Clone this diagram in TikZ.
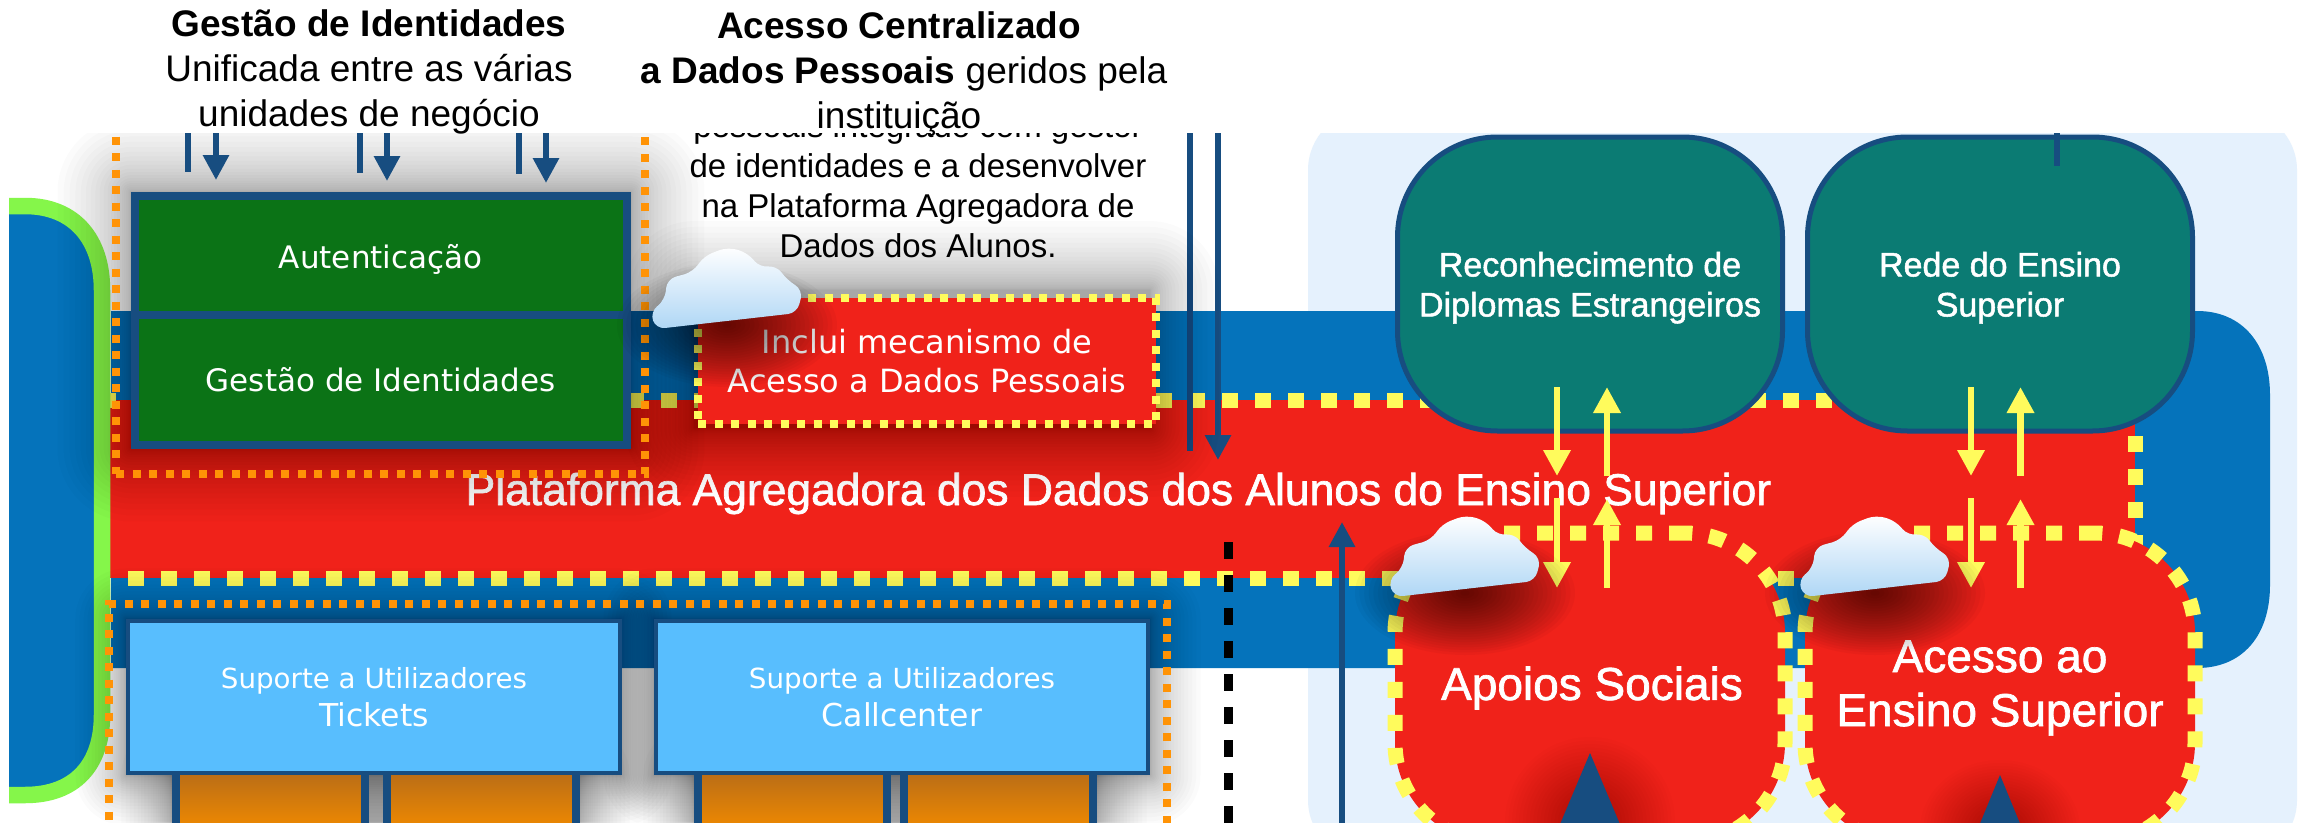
\documentclass[tikz,border=0pt]{standalone}
\usepackage{fontspec}
\setmainfont{Liberation Sans}
\newfontfamily\luc{DejaVu Sans}
\newfontfamily\helvb[FakeBold=1.5]{Liberation Sans}
\usetikzlibrary{arrows.meta}
\definecolor{bandblue}{HTML}{0573BB}
\definecolor{platred}{HTML}{F0221A}
\definecolor{dashyel}{HTML}{FFFB5C}
\definecolor{dashor}{HTML}{FF9306}
\definecolor{tealbox}{HTML}{0B7B73}
\definecolor{greenbox}{HTML}{0B7316}
\definecolor{skybox}{HTML}{58BEFE}
\definecolor{navy}{HTML}{174D80}
\definecolor{panelb}{HTML}{E5F1FD}
\definecolor{limeg}{HTML}{85F64A}
\definecolor{cloudb}{HTML}{AED6F5}
\definecolor{ortop}{HTML}{B86C17}
\definecolor{orbot}{HTML}{F08A00}
\newcommand\softrect[6]{\foreach \k in {1,...,24}{%
  \pgfmathsetmacro\dd{#5*(1-\k/24)*(1-\k/24)}%
  \fill[black,opacity=#6,rounded corners=\dd pt] (#1-\dd,#2-\dd) rectangle (#3+\dd,#4+\dd);}}
\newcommand\softblob[5]{\foreach \k in {1,...,24}{%
  \pgfmathsetmacro\rxx{#3*(1-(\k-1)/24)}%
  \pgfmathsetmacro\ryy{#4*(1-(\k-1)/24)}%
  \fill[black,opacity=#5] (#1,#2) ellipse [x radius=\rxx pt,y radius=\ryy pt];}}
\newcommand\cloudat[3]{\begin{scope}[shift={(#1,#2)}]
  \shade[top color=white,bottom color=cloudb,rounded corners=9pt]
   (656,329) -- (650,312) -- (665,300) -- (667,279) -- (693,272) -- (704,256) -- (728,247) -- (748,253) -- (760,268) -- (776,265) -- (787,280) -- (803,290) -- (797,313) -- cycle;
  \end{scope}}
\tikzset{
  x=1pt,y=-1pt,
  flat/.style={inner sep=0pt,outer sep=0pt},
  lbl/.style={flat,align=center},
  greenbx/.style={flat,draw=navy,line width=8pt,fill=greenbox,text=white,align=center,
     minimum width=492.5pt,font=\luc\fontsize{31}{40}\selectfont},
  skybx/.style={flat,draw=navy,line width=4pt,fill=skybox,text=white,align=center,
     minimum width=492pt,minimum height=152pt,font=\luc\fontsize{27.7}{38}\selectfont},
  orbx/.style={flat,draw=navy,line width=8pt,top color=ortop,bottom color=orbot},
  tealbx/.style={flat,draw=navy,line width=5pt,fill=tealbox,text=white,align=center,
     minimum width=385pt,minimum height=294pt,rounded corners=100pt,font=\helvb\fontsize{34}{40}\selectfont},
  blob/.style={flat,draw=dashyel,line width=15pt,dash pattern=on 16pt off 17pt,fill=platred,text=white,align=center,
     minimum width=390pt,minimum height=310pt,rounded corners=100pt,font=\helvb\fontsize{46}{54}\selectfont},
  oredash/.style={flat,draw=dashor,line width=7.5pt,dash pattern=on 8pt off 8.5pt},
  yeldash/.style={draw=dashyel,line width=15pt,dash pattern=on 16pt off 17pt},
  navyline/.style={draw=navy,line width=6pt},
  navyarrow/.style={draw=navy,line width=6pt,-{Triangle[width=25pt,length=25pt]}},
  yelarrow/.style={draw=dashyel,line width=6.5pt,-{Triangle[width=26pt,length=26pt]}},
}
\begin{document}
\begin{tikzpicture}
\useasboundingbox (0,0) rectangle (2305,822);
\begin{scope}
\clip (0,0) rectangle (2305,822);
\fill[white] (0,0) rectangle (2305,822);
% background panel and band
\fill[panelb,rounded corners=60pt] (1308,110) rectangle (2297,860);
\fill[bandblue] (111,311) -- (2197,311) .. controls (2243,311) and (2270,345) .. (2270,395) -- (2270,585) .. controls (2270,635) and (2243,668) .. (2197,668) -- (111,668) -- cycle;
% platform
\node[flat,fill=platred,text=white,
  minimum width=2033pt,minimum height=178pt,font=\helvb\fontsize{44.4}{48}\selectfont] (plat) at (1118.5,489)
  {\raisebox{-16pt}[0pt][0pt]{Plataforma Agregadora dos Dados dos Alunos do Ensino Superior}};
\draw[yeldash] (100,400) -- (2135,400);
\draw[yeldash] (128,578) -- (2135,578);
\draw[yeldash] (2135,403) -- (2135,578);
% left application shape
\path[fill=bandblue,draw=limeg,line width=16.5pt] (9,206) -- (25,206) .. controls (75,206) and (102,240) .. (102,290) -- (102,715) .. controls (102,765) and (75,795) .. (25,795) -- (9,795);
\fill[white] (0,190) rectangle (9,810);
% vertical connectors behind boxes
\coordinate (blk1) at (1228.5,542); \coordinate (blk2) at (1228.5,830);
\draw[black,line width=8.5pt,dash pattern=on 17pt off 16pt] (blk1) -- (blk2);
\coordinate (up1) at (1342,830); \coordinate (up2) at (1342,522);
\draw[navyarrow] (up1) -- (up2);
\coordinate (dl1) at (1190,100); \coordinate (dl2) at (1190,451);
\draw[navyline] (dl1) -- (dl2);
\coordinate (da1) at (1218,100); \coordinate (da2) at (1218,460);
\draw[navyarrow] (da1) -- (da2);
% shadows
\softrect{131}{192}{631}{448}{80}{.017}
\softrect{694}{290}{1150}{428}{75}{.015}
\softrect{126}{619}{621}{775}{55}{.015}
\softrect{654}{619}{1150}{775}{55}{.015}
\softrect{172}{775}{579}{900}{55}{.015}
\softrect{694}{775}{1096}{900}{55}{.015}
% text above the red box
\node[lbl,font=\fontsize{33}{40}\selectfont] (para) at (918,186)
  {pessoais integrado com gestor\\de identidades e a desenvolver\\na Plataforma Agregadora de\\Dados dos Alunos.};
% dotted orange groups
\node[oredash,minimum width=529pt,minimum height=374pt] (grpA) at (380.5,287) {};
\node[oredash,minimum width=1058pt,minimum height=300pt] (grpB) at (638,754) {};
% arrows on the green boxes
\coordinate (g1a) at (188,100); \coordinate (g1b) at (188,172);
\coordinate (g2a) at (216,100); \coordinate (g2b) at (216,180);
\coordinate (g3a) at (360,100); \coordinate (g3b) at (360,173);
\coordinate (g4a) at (387,100); \coordinate (g4b) at (387,181);
\coordinate (g5a) at (519,100); \coordinate (g5b) at (519,174);
\coordinate (g6a) at (546,100); \coordinate (g6b) at (546,183);
\draw[navyline] (g1a) -- (g1b); \draw[navyarrow] (g2a) -- (g2b);
\draw[navyline] (g3a) -- (g3b); \draw[navyarrow] (g4a) -- (g4b);
\draw[navyline] (g5a) -- (g5b); \draw[navyarrow] (g6a) -- (g6b);
% green boxes
\node[greenbx,minimum height=119pt] (auth) at (380.75,255.5) {\raisebox{-12.5pt}[0pt][0pt]{Autenticação}};
\node[greenbx,minimum height=130pt] (gest) at (380.75,380) {Gestão de Identidades};
% red box
\node[flat,draw=dashyel,line width=7.5pt,dash pattern=on 8pt off 8.5pt,fill=platred,text=white,align=center,
  minimum width=458pt,minimum height=126pt,font=\luc\fontsize{32}{39}\selectfont] (acc) at (927,361)
  {Inclui mecanismo de\\Acesso a Dados Pessoais};
% support boxes
\node[orbx,minimum width=189pt,minimum height=59pt] (o1) at (270.5,800.5) {};
\node[orbx,minimum width=189pt,minimum height=59pt] (o2) at (481,800.5) {};
\node[orbx,minimum width=189pt,minimum height=59pt] (o3) at (792.5,800.5) {};
\node[orbx,minimum width=189pt,minimum height=59pt] (o4) at (998,800.5) {};
\node[skybx] (tick) at (374,697) {Suporte a Utilizadores\\{\fontsize{31.5}{38}\selectfont Tickets}};
\node[skybx] (call) at (902,697) {Suporte a Utilizadores\\{\fontsize{31.5}{38}\selectfont Callcenter}};
% red services
\node[blob] (apo) at (1590,688) {\kern4pt Apoios Sociais};
\node[blob] (ace) at (2000,688) {Acesso ao\\Ensino Superior};
\softblob{1590}{822}{85}{85}{.011}
\softblob{2000}{830}{80}{70}{.011}
\fill[navy] (1590,753) -- (1635,860) -- (1545,860) -- cycle;
\fill[navy] (2000,775) -- (2035,860) -- (1965,860) -- cycle;
% teal services
\node[tealbx] (rec) at (1590,284) {\rule{0pt}{32pt}Reconhecimento de\\Diplomas Estrangeiros};
\node[tealbx] (rede) at (2000,284) {\rule{0pt}{32pt}Rede do Ensino\\Superior};
\coordinate (rl1) at (2057,100); \coordinate (rl2) at (2057,166);
\draw[navyline] (rl1) -- (rl2);
% yellow arrows
\foreach \nm/\xa/\xb in {p/1557/1607,q/1971/2020.5}{
  \coordinate (\nm a) at (\xa,387); \coordinate (\nm b) at (\xa,476);
  \coordinate (\nm c) at (\xb,476); \coordinate (\nm d) at (\xb,387);
  \coordinate (\nm e) at (\xa,498); \coordinate (\nm f) at (\xa,588);
  \coordinate (\nm g) at (\xb,588); \coordinate (\nm h) at (\xb,499);
  \draw[yelarrow] (\nm a) -- (\nm b);
  \draw[yelarrow] (\nm c) -- (\nm d);
  \draw[yelarrow] (\nm e) -- (\nm f);
  \draw[yelarrow] (\nm g) -- (\nm h);
}
% clouds
\softblob{727}{325}{110}{62}{.03}
\softblob{1465}{593}{110}{62}{.03}
\softblob{1875}{593}{110}{62}{.03}
\cloudat{0}{0}{}
\cloudat{738}{268}{}
\cloudat{1148}{268}{}
% top cover and headings
\fill[white] (0,0) rectangle (2305,133);
\node[lbl,font=\fontsize{37}{45}\selectfont] (hd1) at (369,71.5)
  {\textbf{Gestão de Identidades}\\Unificada entre as várias\\unidades de negócio};
\node[lbl,font=\fontsize{37}{45}\selectfont] (hd2) at (899,74.5)
  {\textbf{Acesso Centralizado}\\\hspace*{10pt}\textbf{a Dados Pessoais} geridos pela\\instituição};
\end{scope}
\end{tikzpicture}
\end{document}
